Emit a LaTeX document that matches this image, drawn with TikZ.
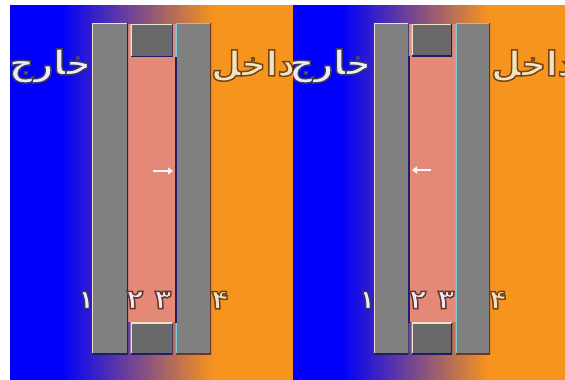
\documentclass[tikz,border=0pt]{standalone}
\usepackage{fontspec}
\newfontfamily\arabicfont[Script=Arabic]{DejaVu Sans Bold}
\TeXXeTstate=1
\usetikzlibrary{arrows.meta}
\definecolor{outblue}{RGB}{0,0,250}
\definecolor{inorange}{RGB}{247,148,29}
\definecolor{wallgray}{RGB}{128,128,128}
\definecolor{pluggray}{RGB}{104,104,104}
\definecolor{gapsalmon}{RGB}{228,137,120}
\definecolor{navyedge}{RGB}{32,30,105}
\definecolor{creamedge}{RGB}{238,226,205}
\definecolor{cyanedge}{RGB}{125,205,215}
\definecolor{brownedge}{RGB}{105,55,35}
\pgfdeclarehorizontalshading{panelshade}{100bp}{color(0bp)=(outblue); color(34bp)=(outblue); color(61bp)=(inorange); color(100bp)=(inorange)}
% outlined glyphs: fill rgb, stroke rgb, text
\newcommand{\rimmed}[3]{\special{pdf:bcolor [#1] [#2]}\special{pdf:literal direct 2 Tr 1.5 w}#3\special{pdf:literal direct 0 Tr}\special{pdf:ecolor}}
\newcommand{\coolfill}{0.93 0.92 0.98}
\newcommand{\warmfill}{0.96 0.89 0.75}
\newcommand{\coolrim}{0.22 0.22 0.38}
\newcommand{\warmrim}{0.45 0.27 0.10}
\newcommand{\pinkrim}{0.41 0.22 0.14}
\tikzset{
  wall/.style={rectangle, anchor=north west, inner sep=0pt, outer sep=0pt,
    fill=wallgray, minimum height=331pt},
  plug/.style={rectangle, anchor=north west, inner sep=0pt, outer sep=0pt,
    fill=pluggray, minimum width=42pt},
  channel/.style={rectangle, anchor=north west, inner sep=0pt, outer sep=0pt,
    fill=gapsalmon, minimum width=47.5pt, minimum height=298pt},
  bevel/.style 2 args={path picture={
    \draw[#1, line width=2pt] (path picture bounding box.south west)
      |- (path picture bounding box.north east);
    \draw[#2, line width=2pt] (path picture bounding box.north east)
      |- (path picture bounding box.south west);}},
  seam/.style={navyedge, line width=2pt},
  pointer/.style={-{Triangle[length=5pt,width=7pt]}, line width=2.5pt, white!90!pink},
  bigword/.style={font=\arabicfont\fontsize{34}{34}\selectfont, inner sep=0pt},
  digit/.style={font=\arabicfont\fontsize{27}{27}\selectfont, inner sep=0pt},
}

\begin{document}
\begin{tikzpicture}[x=1pt, y=-1pt]
\useasboundingbox (0,0) rectangle (565,380);

% ===== left panel: flow inward =====
\path[shading=panelshade] (10,5) rectangle (293,380);
\begin{scope}
  \clip (10,5) rectangle (293,380);
  \node[channel] (gapA) at (128,24) {};
  \node[wall, bevel={creamedge}{navyedge}, minimum width=36pt] (outerA) at (92,23) {};
  \node[wall, bevel={cyanedge}{brownedge}, minimum width=35.5pt] (innerA) at (175.5,23) {};
  \node[plug, bevel={creamedge}{navyedge}, minimum height=32.5pt] (topA) at (130.5,24) {};
  \node[plug, bevel={creamedge}{navyedge}, minimum height=31.5pt] (botA) at (130.5,322.5) {};
  \draw[seam] (topA.south -| innerA.west) -- (botA.north -| innerA.west);

  \coordinate (pushA0) at (153,171);
  \coordinate (pushA1) at (173,171);
  \draw[pointer] (pushA0) -- (pushA1);

  \node[bigword] (outwordA) at (50,66) {\rimmed{\coolfill}{\coolrim}{\beginR خارج\endR}};
  \node[bigword] (inwordA) at (253,66) {\rimmed{\warmfill}{\warmrim}{\beginR داخل\endR}};

  \node[digit] (d1A) at (86,300) {\rimmed{\coolfill}{\coolrim}{۱}};
  \node[digit] (d2A) at (135,300) {\rimmed{\coolfill}{\pinkrim}{۲}};
  \node[digit] (d3A) at (163,300) {\rimmed{\coolfill}{\pinkrim}{۳}};
  \node[digit] (d4A) at (220,300) {\rimmed{\warmfill}{\warmrim}{۴}};
\end{scope}

% ===== right panel: flow outward =====
\path[shading=panelshade] (293,5) rectangle (565,380);
\begin{scope}
  \clip (293,5) rectangle (565,380);
  \node[channel] (gapB) at (408,24) {};
  \node[wall, bevel={creamedge}{navyedge}, minimum width=34.5pt] (outerB) at (374,23) {};
  \node[wall, bevel={cyanedge}{brownedge}, minimum width=34.5pt] (innerB) at (455.5,23) {};
  \node[plug, bevel={creamedge}{navyedge}, minimum height=32pt, minimum width=40.5pt] (topB) at (411.5,24) {};
  \node[plug, bevel={creamedge}{navyedge}, minimum height=31.5pt, minimum width=40.5pt] (botB) at (411.5,322.5) {};
  \draw[seam] (topB.south -| outerB.east) -- (botB.north -| outerB.east);

  \coordinate (pushB0) at (431,170);
  \coordinate (pushB1) at (412,170);
  \draw[pointer] (pushB0) -- (pushB1);

  \node[bigword] (outwordB) at (330,66) {\rimmed{\coolfill}{\coolrim}{\beginR خارج\endR}};
  \node[bigword] (inwordB) at (533,66) {\rimmed{\warmfill}{\warmrim}{\beginR داخل\endR}};

  \node[digit] (d1B) at (367,300) {\rimmed{\coolfill}{\coolrim}{۱}};
  \node[digit] (d2B) at (418,300) {\rimmed{\coolfill}{\pinkrim}{۲}};
  \node[digit] (d3B) at (446,300) {\rimmed{\coolfill}{\pinkrim}{۳}};
  \node[digit] (d4B) at (498,300) {\rimmed{\warmfill}{\warmrim}{۴}};
\end{scope}

\end{tikzpicture}
\end{document}
